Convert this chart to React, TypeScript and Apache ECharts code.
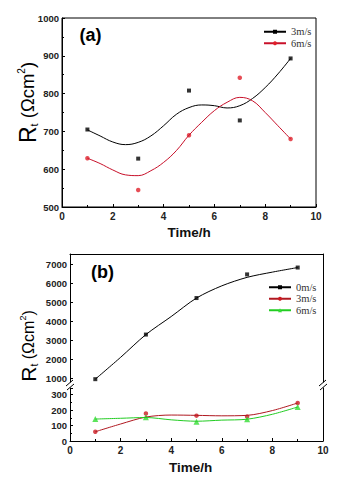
import React, { useEffect, useRef } from 'react';
import * as echarts from 'echarts';

// ---------- Panel (a) data ----------
const timeA = [1, 3, 5, 7, 9];
const a3Points = [705, 628, 808, 729, 893];
const a6Points = [629, 545, 690, 842, 680];
const fitTimeA = [1, 1.5, 2, 2.5, 3, 3.5, 4, 4.5, 5, 5.5, 6, 6.5, 7, 7.5, 8, 8.5, 9];
const a3Fit = [704, 688, 672, 665, 671, 688, 715, 745, 763, 770, 768, 762, 768, 787, 816, 852, 893];
const a6Fit = [629, 615, 598, 585, 583, 596, 618, 649, 690, 724, 755, 777, 790, 781, 750, 715, 680];

// ---------- Panel (b) data ----------
const timeB = [1, 3, 5, 7, 9];
const b0Points = [975, 3315, 5230, 6470, 6830];
const b3Points = [60, 178, 164, 158, 246];
const b6Points = [142, 154, 125, 141, 220];
const fitTimeB = [1, 2, 3, 4, 5, 6, 7, 8, 9];
const b0Fit = [975, 2120, 3315, 4260, 5230, 5870, 6315, 6590, 6830];
const b3Fit = [60, 110, 155, 168, 166, 163, 166, 197, 246];
const b6Fit = [142, 147, 152, 137, 128, 135, 141, 173, 220];
const upperTicksB = [1000, 2000, 3000, 4000, 5000, 6000, 7000];

const legendA = ['3m/s', '6m/s'];
const legendB = ['0m/s', '3m/s', '6m/s'];

const FONT = '"Liberation Sans", Arial, sans-serif';
const SERIF = '"Liberation Serif", "Times New Roman", serif';

const pairs = (xs: number[], ys: number[]) => xs.map((x, i) => [x, ys[i]]);
const plain = (v: number) => String(v);

const tickLabel = { fontFamily: FONT, fontWeight: 'bold' as const, fontSize: 10, color: '#222', formatter: plain };
const yTickLabel = { fontFamily: FONT, fontWeight: 'bold' as const, fontSize: 9.5, color: '#222', formatter: plain };
const black = { color: '#000', width: 1 };

const richName = (R: number, t: number, p: number, s: number) => ({
  R: { fontSize: R, fontFamily: FONT, color: '#000' },
  t: { fontSize: t, fontFamily: FONT, color: '#000', verticalAlign: 'bottom' },
  p: { fontSize: p, fontFamily: FONT, color: '#000' },
  s: { fontSize: s, fontFamily: FONT, color: '#000', verticalAlign: 'top' },
});
const NAME = '{R|R}{t|t}{p| (Ωcm}{s|2}{p|)}';

const timeName = { fontFamily: FONT, fontWeight: 'bold' as const, fontSize: 13.5, color: '#111' };
const legendText = { fontFamily: SERIF, fontSize: 10.5, color: '#333', lineHeight: 11.5 };

const optionA: any = {
  animation: false,
  grid: {
    left: 62, top: 18, width: 254, height: 189, show: true, borderColor: '#000', borderWidth: 1,
    containLabel: false, outerBoundsMode: 'none',
  },
  xAxis: {
    type: 'value', min: 0, max: 10, interval: 2,
    axisLine: { lineStyle: black },
    axisTick: { inside: true, length: 3, lineStyle: black },
    minorTick: { show: true, splitNumber: 2, length: 2, lineStyle: black },
    splitLine: { show: false },
    axisLabel: { ...tickLabel, margin: 4 },
    name: 'Time/h', nameLocation: 'middle', nameGap: 18, nameMoveOverlap: false, nameTextStyle: timeName,
  },
  yAxis: {
    type: 'value', min: 500, max: 1000, interval: 100,
    axisLine: { show: true, lineStyle: black },
    axisTick: { show: true, inside: true, length: 3, lineStyle: black },
    minorTick: { show: true, splitNumber: 2, length: 2, lineStyle: black },
    splitLine: { show: false },
    axisLabel: { ...yTickLabel, margin: 3 },
    name: NAME, nameLocation: 'middle', nameGap: 23, nameRotate: 90, nameMoveOverlap: false,
    nameTextStyle: { rich: richName(23, 11, 18.5, 10), padding: [0, 0, 0, 20] },
  },
  legend: {
    data: legendA, orient: 'vertical', left: 258, top: 21,
    itemWidth: 22, itemHeight: 5, itemGap: 0,
    textStyle: legendText,
  },
  graphic: [
    {
      type: 'text', x: 90.5, y: 35,
      style: { text: '(a)', font: `bold 18px ${FONT}`, fill: '#000', align: 'center', verticalAlign: 'middle', textAlign: 'center', textVerticalAlign: 'middle' },
    },
  ],
  series: [
    {
      name: '3m/s', type: 'line', data: pairs(fitTimeA, a3Fit), smooth: 0.4, showSymbol: false,
      symbol: 'rect', symbolSize: 4, lineStyle: { color: '#000', width: 1 }, itemStyle: { color: '#000' },
    },
    { name: 'a3pts', type: 'scatter', data: pairs(timeA, a3Points), symbol: 'rect', symbolSize: 4, itemStyle: { color: '#000' } },
    {
      name: '6m/s', type: 'line', data: pairs(fitTimeA, a6Fit), smooth: 0.4, showSymbol: false,
      symbol: 'circle', symbolSize: 4.5, lineStyle: { color: '#c8102a', width: 1 }, itemStyle: { color: '#e0202a' },
    },
    { name: 'a6pts', type: 'scatter', data: pairs(timeA, a6Points), symbol: 'circle', symbolSize: 4.5, itemStyle: { color: '#e0202a' } },
  ],
};

const OFF = 240; // top of panel (b) container
const gridL = 70, gridW = 253;
const upTop = 254 - OFF, upH = 128;
const loTop = 388 - OFF, loH = 53;

const lineOnly = {
  axisLine: { show: true, lineStyle: black }, axisTick: { show: false }, axisLabel: { show: false }, splitLine: { show: false },
};

const breakMark = (x: number) => [
  { type: 'line', shape: { x1: x - 4, y1: 385 - OFF + 1, x2: x + 3, y2: 385 - OFF - 5 }, style: { stroke: '#000', lineWidth: 1 } },
  { type: 'line', shape: { x1: x - 3, y1: 385 - OFF + 5, x2: x + 4, y2: 385 - OFF - 1 }, style: { stroke: '#000', lineWidth: 1 } },
];

const optionB: any = {
  animation: false,
  grid: [
    { left: gridL, top: upTop, width: gridW, height: upH, containLabel: false, outerBoundsMode: 'none' },
    { left: gridL, top: loTop, width: gridW, height: loH, containLabel: false, outerBoundsMode: 'none' },
  ],
  xAxis: [
    { type: 'value', gridIndex: 0, position: 'top', min: 0, max: 10, interval: 2, ...lineOnly },
    {
      type: 'value', gridIndex: 1, position: 'bottom', min: 0, max: 10, interval: 2,
      axisLine: { lineStyle: black },
      axisTick: { inside: true, length: 3, lineStyle: black },
      minorTick: { show: true, splitNumber: 2, length: 2, lineStyle: black },
      splitLine: { show: false },
      axisLabel: { ...tickLabel, margin: 4 },
      name: 'Time/h', nameLocation: 'middle', nameGap: 19, nameMoveOverlap: false,
      nameTextStyle: { ...timeName, padding: [0, 12, 0, 0] },
    },
  ],
  yAxis: [
    {
      type: 'value', gridIndex: 0, min: 827, max: 7540,
      axisLine: { show: true, lineStyle: black },
      axisTick: { show: true, inside: true, length: 3, lineStyle: black, customValues: upperTicksB },
      splitLine: { show: false },
      axisLabel: { ...yTickLabel, margin: 3, customValues: upperTicksB },
      name: NAME, nameLocation: 'middle', nameGap: 31, nameRotate: 90, nameMoveOverlap: false,
      nameTextStyle: { rich: richName(21, 10.5, 16, 9), padding: [0, 56, 0, 0] },
    },
    { type: 'value', gridIndex: 0, position: 'right', min: 827, max: 7540, ...lineOnly },
    {
      type: 'value', gridIndex: 1, min: 0, max: 343, interval: 100,
      axisLine: { show: true, lineStyle: black },
      axisTick: { show: true, inside: true, length: 3, lineStyle: black },
      minorTick: { show: true, splitNumber: 2, length: 2, lineStyle: black },
      splitLine: { show: false },
      axisLabel: { ...yTickLabel, margin: 3 },
    },
    { type: 'value', gridIndex: 1, position: 'right', min: 0, max: 343, ...lineOnly },
  ],
  legend: {
    data: legendB, orient: 'vertical', left: 263, top: 36.5,
    itemWidth: 22, itemHeight: 5, itemGap: 0,
    textStyle: legendText,
  },
  graphic: [
    {
      type: 'text', x: 102.5, y: 272 - OFF,
      style: { text: '(b)', font: `bold 18px ${FONT}`, fill: '#000', align: 'center', verticalAlign: 'middle', textAlign: 'center', textVerticalAlign: 'middle' },
    },
    ...breakMark(gridL),
    ...breakMark(gridL + gridW),
  ],
  series: [
    {
      name: '0m/s', type: 'line', xAxisIndex: 0, yAxisIndex: 0, data: pairs(fitTimeB, b0Fit), smooth: 0.3, showSymbol: false,
      symbol: 'rect', symbolSize: 4, lineStyle: { color: '#000', width: 1 }, itemStyle: { color: '#000' },
    },
    { name: 'b0pts', type: 'scatter', xAxisIndex: 0, yAxisIndex: 0, data: pairs(timeB, b0Points), symbol: 'rect', symbolSize: 4, itemStyle: { color: '#000' } },
    {
      name: '3m/s', type: 'line', xAxisIndex: 1, yAxisIndex: 2, data: pairs(fitTimeB, b3Fit), smooth: 0.3, showSymbol: false,
      symbol: 'circle', symbolSize: 4.5, lineStyle: { color: '#b01820', width: 1 }, itemStyle: { color: '#cc1a22' },
    },
    { name: 'b3pts', type: 'scatter', xAxisIndex: 1, yAxisIndex: 2, data: pairs(timeB, b3Points), symbol: 'circle', symbolSize: 4.5, itemStyle: { color: '#cc1a22' } },
    {
      name: '6m/s', type: 'line', xAxisIndex: 1, yAxisIndex: 2, data: pairs(fitTimeB, b6Fit), smooth: 0.3, showSymbol: false,
      symbol: 'triangle', symbolSize: 6, lineStyle: { color: '#22cc22', width: 1 }, itemStyle: { color: '#33dd33' },
    },
    { name: 'b6pts', type: 'scatter', xAxisIndex: 1, yAxisIndex: 2, data: pairs(timeB, b6Points), symbol: 'triangle', symbolSize: 6, itemStyle: { color: '#33dd33' } },
  ],
};

function Chart({ option, top, height }: { option: any; top: number; height: number }) {
  const ref = useRef<HTMLDivElement>(null);
  useEffect(() => {
    const chart = echarts.init(ref.current!, null, { renderer: 'svg' });
    chart.setOption(option);
    return () => chart.dispose();
  }, [option]);
  return <div ref={ref} style={{ position: 'absolute', left: 0, top, width: 346, height }} />;
}

export default function App() {
  return (
    <div style={{ position: 'absolute', left: 0, top: 0, width: 346, height: 482, background: '#fff' }}>
      <Chart option={optionA} top={0} height={OFF} />
      <Chart option={optionB} top={OFF} height={482 - OFF} />
    </div>
  );
}
